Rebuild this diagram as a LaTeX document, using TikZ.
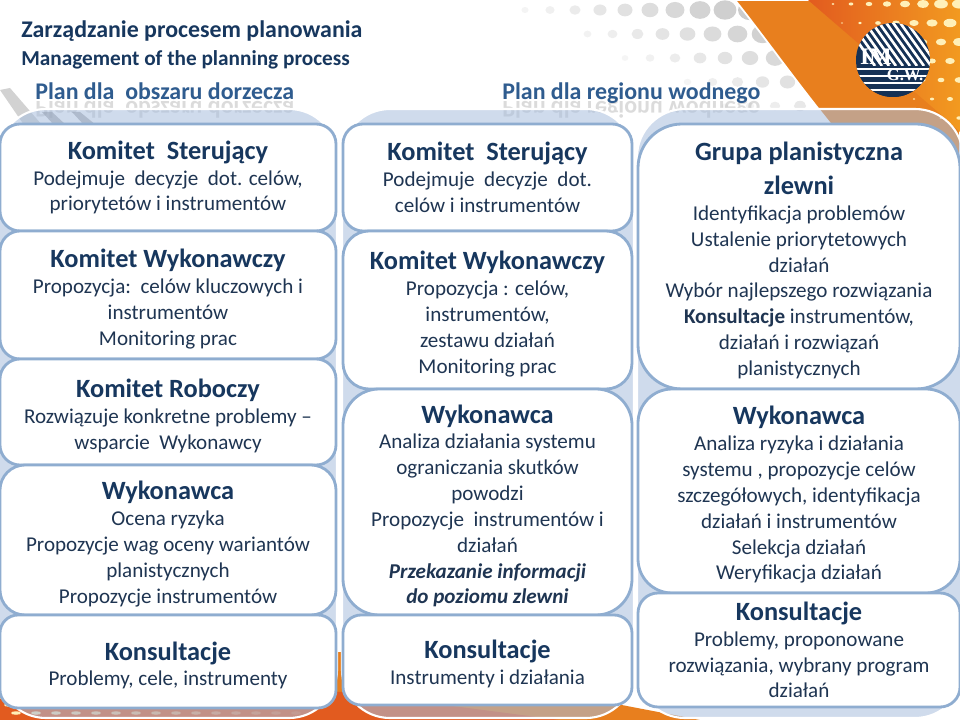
\documentclass[tikz,border=0pt]{standalone}
\usepackage{fontspec}
\setmainfont{Carlito}
\newfontfamily\logofont{Liberation Serif}
\usetikzlibrary{calc}

\definecolor{navy}{HTML}{17375E}
\definecolor{bodytext}{HTML}{1F3552}
\definecolor{plantitle}{HTML}{2F5C8F}
\definecolor{boxline}{HTML}{8FADD0}
\definecolor{backfill}{HTML}{A8BEDE}
\definecolor{orangeA}{HTML}{E87F1E}
\definecolor{orangeB}{HTML}{E25B1F}
\definecolor{orangeC}{HTML}{F29A20}
\definecolor{dotyellow}{HTML}{FFF0B8}

\newcommand{\hdb}[1]{{\fontsize{15}{14.7}\selectfont\bfseries\color{navy}#1}}
\newcommand{\hd}[1]{\rule{0pt}{15pt}\hdb{#1}}

\tikzset{
    plbox/.style n args={3}{draw=boxline, line width=1.6pt, fill=white,
        rounded corners=#3*0.2mm, minimum width=#1*0.2mm, minimum height=#2*0.2mm,
        inner sep=0pt, align=center, text=bodytext,
        font=\fontsize{12}{14.7}\selectfont},
    backing/.style={draw=white, line width=1.2pt, fill=backfill, fill opacity=.55,
        rounded corners=48*0.2mm},
    plantitle/.style={anchor=base west, inner sep=0pt, text=plantitle,
        font=\fontsize{13.6}{18}\selectfont\bfseries},
    reflected/.style={anchor=base west, inner sep=0pt, text=gray, opacity=.28,
        yscale=-1, transform shape, font=\fontsize{13.6}{18}\selectfont\bfseries},
    maintitle/.style={anchor=base west, inner sep=0pt, text=navy}
}

\begin{document}
\begin{tikzpicture}[x=0.2mm, y=-0.2mm]
    \useasboundingbox (0,0) rectangle (960,720);
    \fill [white] (0,0) rectangle (960,720);

    % halftone dots behind the swoosh
    \foreach \i in {0,...,12} {
        \foreach \j in {0,...,4} {
            \pgfmathsetmacro{\dx}{500+\i*25+mod(\j,2)*12.5}
            \pgfmathsetmacro{\dy}{10+\j*24}
            \pgfmathsetmacro{\tval}{min(1,(\dx-510-(\dy-10)*2.2)/230)}
            \ifdim \tval pt>0pt
                \pgfmathsetmacro{\rval}{3+9*\tval}
                \fill [gray, opacity=.06+.34*\tval] (\dx,\dy) ellipse ({\rval*0.2mm} and {\rval*0.17mm});
            \fi
        }
    }

    % swoosh top right
    \draw [white, line width=1pt, fill=orangeA] (735,0) .. controls (775,50) and (830,130) .. (880,180) -- (960,180) -- (960,0) -- cycle;
    \shade [left color=orangeB, middle color=orangeB, right color=orangeC] (808,0) -- (945,118) -- (960,132) -- (960,0) -- cycle;
    \foreach \i in {0,...,9} {
        \foreach \j in {0,...,6} {
            \pgfmathsetmacro{\dx}{815+\i*18+mod(\j,2)*9}
            \pgfmathsetmacro{\dy}{4+\j*19}
            \pgfmathsetmacro{\tval}{(\dx-820-\dy*0.9)/120}
            \ifdim \tval pt>0pt
                \pgfmathsetmacro{\rval}{1+6*min(1,\tval)}
                \fill [dotyellow] (\dx,\dy) ellipse ({\rval*0.2mm} and {\rval*0.13mm});
            \fi
        }
    }

    % orange at the bottom
    \fill [orangeA] (330,652) -- (345,652) -- (700,720) -- (20,720) -- cycle;
    \fill [orangeB] (0,680) -- (345,692) -- (560,720) -- (0,720) -- cycle;
    \foreach \i in {0,...,14} {
        \foreach \j in {0,1,2} {
            \fill [dotyellow, opacity=1-\i*0.06] (2+\i*20+\j*7,697+\j*8) ellipse (1mm and 0.35mm);
        }
    }

    % grey marks top left
    \fill [gray!35] (0,90) -- (10,88) -- (42,125) -- (24,125) -- cycle;
    \fill [gray!55] (42,112) -- (52,112) -- (66,125) -- (54,125) -- cycle;
    \fill [gray!55] (72,112) -- (80,112) -- (96,125) -- (84,125) -- cycle;

    % mirrored titles
    \node [reflected] (refla) at (35,102) {Plan dla\ \ obszaru dorzecza};
    \node [reflected] (reflb) at (502,102) {Plan dla regionu wodnego};

    % column backings
    \draw [backing] (-2,109) rectangle (337,718);
    \draw [backing] (342,109) rectangle (634,718);
    \draw [backing] (637,109) rectangle (963,718);

    % logo
    \fill [navy!90!black] (893,60) circle (37*0.2mm);
    \begin{scope}
        \clip (893,60) circle (37*0.2mm);
        \foreach \s in {0,...,14} {
            \draw [white, line width=1.5pt] (835+\s*7,10) -- (875+\s*7,66);
        }
        \fill [navy!90!black] (850,66) rectangle (940,100);
        \foreach \yy in {69,76,83,90} {
            \draw [white, line width=1.2pt] (850,\yy) -- (940,\yy);
        }
    \end{scope}
    \node [text=white, inner sep=0pt, font=\logofont\fontsize{13.5}{13}\selectfont\bfseries] (logoa) at (876,57) {IM};
    \node [text=white, inner sep=0pt, font=\logofont\fontsize{9.5}{10}\selectfont\bfseries] (logob) at (905,75) {G.W.};

    % headings
    \node [maintitle, font=\fontsize{13.6}{18}\selectfont\bfseries] (titlea) at (21,38) {Zarządzanie procesem planowania};
    \node [maintitle, font=\fontsize{12.1}{18}\selectfont\bfseries] (titleb) at (21,66) {Management of the planning process};
    \node [plantitle] (plana) at (35,100) {Plan dla\ \ obszaru dorzecza};
    \node [plantitle] (planb) at (502,100) {Plan dla regionu wodnego};

    % first column
    \node [plbox={336}{107}{20}] (sterA) at (168,177.5) {\hdb{Komitet\ \ Sterujący}\\Podejmuje\ \ decyzje\ \ dot. celów,\\priorytetów i instrumentów};
    \node [plbox={336}{128}{20}] (wykomA) at (168,295) {\hd{Komitet Wykonawczy}\\Propozycja:\ \ celów kluczowych i\\instrumentów\\Monitoring prac};
    \node [plbox={336}{106}{20}] (robA) at (168,412) {\hd{Komitet Roboczy}\\Rozwiązuje konkretne problemy --\\wsparcie\ \ Wykonawcy};
    \node [plbox={336}{150}{25}] (wykA) at (168,540) {\hd{Wykonawca}\\Ocena ryzyka\\Propozycje wag oceny wariantów\\planistycznych\\Propozycje instrumentów};
    \node [plbox={336}{93}{18}] (konsA) at (168,661.5) {\hd{Konsultacje}\\Problemy, cele, instrumenty};

    % second column
    \node [plbox={289}{107}{20}] (sterB) at (487.5,177.5) {\hdb{Komitet\ \ Sterujący}\\Podejmuje\ \ decyzje\ \ dot.\\celów i instrumentów};
    \node [plbox={289}{158}{26}] (wykomB) at (487.5,310) {\hd{Komitet Wykonawczy}\\Propozycja : celów,\\instrumentów,\\zestawu działań\\Monitoring prac};
    \node [plbox={289}{226}{36}] (wykB) at (487.5,502) {\hd{Wykonawca}\\Analiza działania systemu\\ograniczania skutków\\powodzi\\Propozycje\ \ instrumentów i\\działań\\\textbf{\textit{Przekazanie informacji}}\\\textbf{\textit{do poziomu zlewni}}};
    \node [plbox={289}{90}{18}] (konsB) at (487.5,660) {\hd{Konsultacje}\\Instrumenty i działania};

    % third column
    \node [plbox={322}{265}{44}] (grupaC) at (799,256.5) {\hd{Grupa planistyczna}\\[4.6pt]\hdb{zlewni}\\Identyfikacja problemów\\Ustalenie priorytetowych\\działań\\Wybór najlepszego rozwiązania\\\textbf{Konsultacje} instrumentów,\\działań i rozwiązań\\planistycznych};
    \node [plbox={322}{204}{34}] (wykC) at (799,491) {\hd{Wykonawca}\\Analiza ryzyka i działania\\systemu , propozycje celów\\szczegółowych, identyfikacja\\działań i instrumentów\\Selekcja działań\\Weryfikacja działań};
    \node [plbox={322}{114}{20}] (konsC) at (799,650) {\hdb{Konsultacje}\\Problemy, proponowane\\rozwiązania, wybrany program\\działań};
\end{tikzpicture}
\end{document}
